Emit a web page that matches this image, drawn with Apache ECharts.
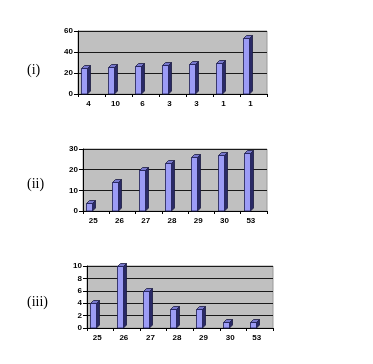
<!DOCTYPE html>
<html><head><meta charset="utf-8">
<script src="https://cdn.jsdelivr.net/npm/echarts@6/dist/echarts.min.js"></script>
<style>html,body{margin:0;padding:0;background:#fff}#c{width:373px;height:364px}</style>
</head><body><div id="c"></div>
<script>
const cats1 = ['4','10','6','3','3','1','1'];
const vals1 = [25, 26, 27, 28, 29, 30, 53];
const cats2 = ['25','26','27','28','29','30','53'];
const vals2 = [4, 14, 20, 23, 26, 27, 28];
const cats3 = ['25','26','27','28','29','30','53'];
const vals3 = [4, 10, 6, 3, 3, 1, 1];
const panelLabels = ['(i)', '(ii)', '(iii)'];
const yMax = [60, 30, 10];
const yInt = [20, 10, 2];

const chart = echarts.init(document.getElementById('c'), null, {renderer:'canvas'});

function renderItem(params, api){
  const idx = api.value(0), v = api.value(1);
  const top = api.coord([idx, v]);
  const base = api.coord([idx, 0]);
  const bw = api.size([1,0])[0];
  const fl = Math.round(base[0] - bw*0.38) + 0.5;
  const fw = 6, d = 3;
  const ty = Math.round(top[1]) + 0.5, by = Math.round(base[1]);
  return {type:'group', children:[
    {type:'polygon', shape:{points:[[fl+fw,ty],[fl+fw+d,ty-d],[fl+fw+d,by-d],[fl+fw,by]]},
      style:{fill:'#2a2a66', stroke:'#1a1a40', lineWidth:0.8}},
    {type:'polygon', shape:{points:[[fl,ty],[fl+fw,ty],[fl+fw+d,ty-d],[fl+d,ty-d]]},
      style:{fill:'#7777cc', stroke:'#1a1a40', lineWidth:0.8}},
    {type:'rect', shape:{x:fl, y:ty, width:fw, height:by-ty},
      style:{fill:'#9c9cf6', stroke:'#1a1a50', lineWidth:0.8}}
  ]};
}

const grids = [
  {left:78, right:106, top:31, height:63},
  {left:83, right:106, top:149, height:62},
  {left:87, right:100, top:266, height:62}
];
const cats = [cats1, cats2, cats3];
const vals = [vals1, vals2, vals3];
const labelY = [71, 185, 303];

const option = {
  animation:false,
  grid: grids.map(g => Object.assign({show:true, backgroundColor:'#c0c0c0', borderColor:'#9a9a9a', borderWidth:1}, g)),
  xAxis: cats.map((c,i) => ({
    type:'category', gridIndex:i, data:c, boundaryGap:true,
    axisLine:{show:true, lineStyle:{color:'#000', width:1}},
    axisTick:{show:true, length:3, lineStyle:{color:'#000'}},
    axisLabel:{color:'#000', fontSize:8, fontWeight:'bold', fontFamily:'Liberation Sans, Arial', margin:6, padding:[0,6,0,0]}
  })),
  yAxis: yMax.map((m,i) => ({
    type:'value', gridIndex:i, min:0, max:m, interval:yInt[i],
    axisLine:{show:true, lineStyle:{color:'#000', width:1}},
    axisTick:{show:true, length:4, lineStyle:{color:'#000'}},
    axisLabel:{color:'#000', fontSize:8, fontWeight:'bold', fontFamily:'Liberation Sans, Arial', margin:5},
    splitLine:{show:true, lineStyle:{color:'#1a1a1a', width:1}}
  })),
  series: vals.map((v,i) => ({
    type:'custom', xAxisIndex:i, yAxisIndex:i, renderItem:renderItem,
    data: v.map((y,k) => [k, y])
  })),
  graphic: panelLabels.map((t,i) => ({
    type:'text', left:27, top:labelY[i]-8,
    style:{text:t, fontFamily:'Liberation Serif, Times New Roman', fontSize:14, fill:'#000'}
  }))
};
chart.setOption(option);
</script></body></html>
